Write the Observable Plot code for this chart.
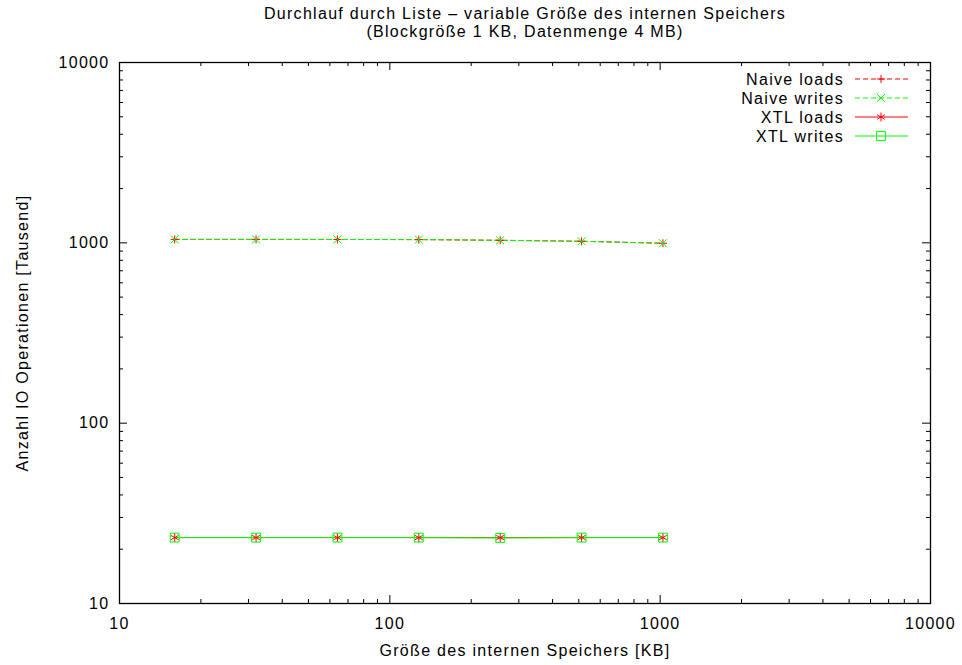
<!DOCTYPE html>
<html><head><meta charset="utf-8">
<script src="https://cdn.jsdelivr.net/npm/d3@7"></script>
<script src="https://cdn.jsdelivr.net/npm/@observablehq/plot@0.6"></script>
<style>
body{margin:0;background:#fff}
svg{font-family:"Liberation Sans",Arial,Helvetica,sans-serif}
svg text{letter-spacing:1.3px}
</style>
</head><body><div id="chart"></div>
<script>
// ---- data ----
const memKB = [16, 32, 64, 128, 256, 512, 1024];
const naiveLoads  = [1045, 1045, 1044, 1042, 1033, 1020, 995];
const naiveWrites = [1045, 1045, 1044, 1042, 1033, 1020, 995];
const xtlLoads  = [23.2, 23.2, 23.2, 23.2, 23.2, 23.2, 23.2];
const xtlWrites = [23.2, 23.2, 23.2, 23.2, 23.1, 23.2, 23.2];
const xTicks = [10, 100, 1000, 10000];
const yTicks = [10, 100, 1000, 10000];
const minorMultipliers = [2, 3, 4, 5, 6, 7, 8, 9];
const seriesNames = ["Naive loads", "Naive writes", "XTL loads", "XTL writes"];
const titleLines = ["Durchlauf durch Liste \u2013 variable Gr\u00f6\u00dfe des internen Speichers", "(Blockgr\u00f6\u00dfe 1 KB, Datenmenge 4 MB)"];
const xLabel = "Gr\u00f6\u00dfe des internen Speichers [KB]";
const yLabel = "Anzahl IO Operationen [Tausend]";

// ---- layout ----
const W = 962, H = 665;
const mL = 119, mR = 32, mT = 62, mB = 62;
const fW = W - mL - mR, fH = H - mT - mB;
const FS = 16;
const RED = "#ff0000", GREEN = "#00ff00";

const minorX = xTicks.slice(0, -1).flatMap(d => minorMultipliers.map(m => d * m));
const minorY = yTicks.slice(0, -1).flatMap(d => minorMultipliers.map(m => d * m));

const rows = (ys) => memKB.map((x, i) => ({x, y: ys[i]}));
const series = [
  {name: seriesNames[0], data: rows(naiveLoads),  stroke: RED,   dash: "5,3", symbol: "plus",     r: 2.7},
  {name: seriesNames[1], data: rows(naiveWrites), stroke: GREEN, dash: "5,3", symbol: "times",    r: 3.7},
  {name: seriesNames[2], data: rows(xtlLoads),    stroke: RED,   dash: null,  symbol: "asterisk", r: 4.2},
  {name: seriesNames[3], data: rows(xtlWrites),   stroke: GREEN, dash: null,  symbol: "square",   r: 5.0}
];

const tickStyle = {stroke: "black", strokeWidth: 1};
const marks = [
  // inward ticks, all four sides
  Plot.tickX(xTicks, {x: d => d, insetTop: fH - 8, ...tickStyle}),
  Plot.tickX(xTicks, {x: d => d, insetBottom: fH - 8, ...tickStyle}),
  Plot.tickX(minorX, {x: d => d, insetTop: fH - 4, ...tickStyle}),
  Plot.tickX(minorX, {x: d => d, insetBottom: fH - 4, ...tickStyle}),
  Plot.tickY(yTicks, {y: d => d, insetRight: fW - 8, ...tickStyle}),
  Plot.tickY(yTicks, {y: d => d, insetLeft: fW - 8, ...tickStyle}),
  Plot.tickY(minorY, {y: d => d, insetRight: fW - 4, ...tickStyle}),
  Plot.tickY(minorY, {y: d => d, insetLeft: fW - 4, ...tickStyle}),
  Plot.axisX(xTicks, {anchor: "bottom", tickSize: 0, tickPadding: 14, tickFormat: d => String(d), fontSize: FS, fill: "black", label: null}),
  Plot.axisY(yTicks, {anchor: "left", tickSize: 0, tickPadding: 10, tickFormat: d => String(d), fontSize: FS, fill: "black", label: null}),
];
for (const s of series) {
  marks.push(Plot.line(s.data, {x: "x", y: "y", stroke: s.stroke, strokeWidth: 1, strokeDasharray: s.dash || undefined}));
}
for (const s of series) {
  marks.push(Plot.dot(s.data, {x: "x", y: "y", symbol: () => s.symbol, r: s.r, stroke: s.stroke, strokeWidth: 1, fill: "none"}));
}
marks.push(
  Plot.frame({stroke: "black", strokeWidth: 1.3}),
  Plot.text([titleLines[0]], {text: d => d, frameAnchor: "top", lineAnchor: "middle", dy: -49, fontSize: FS, fill: "black"}),
  Plot.text([titleLines[1]], {text: d => d, frameAnchor: "top", lineAnchor: "middle", dy: -31, fontSize: FS, fill: "black"}),
  Plot.text([xLabel], {text: d => d, frameAnchor: "bottom", lineAnchor: "middle", dy: 47, fontSize: FS, fill: "black"}),
  Plot.text([yLabel], {text: d => d, frameAnchor: "left", textAnchor: "middle", lineAnchor: "middle", dx: -97, rotate: -90, fontSize: FS, fill: "black"})
);

const chart = Plot.plot({
  width: W, height: H,
  marginLeft: mL, marginRight: mR, marginTop: mT, marginBottom: mB,
  style: {fontFamily: '"Liberation Sans", Arial, sans-serif', fontSize: FS + "px", background: "white", overflow: "visible"},
  x: {type: "log", domain: [10, 10000], axis: null},
  y: {type: "log", domain: [10, 10000], axis: null},
  marks
});
document.getElementById("chart").appendChild(chart);

// ---- legend (top-right, inside frame) ----
const svg = d3.select(chart);
const lg = svg.append("g").attr("class", "legend");
const symMap = {plus: d3.symbolPlus, times: d3.symbolTimes, asterisk: d3.symbolAsterisk, square: d3.symbolSquare};
series.forEach((s, i) => {
  const y = 79 + i * 19;
  lg.append("text").attr("x", 844).attr("y", y).attr("dy", "0.35em")
    .attr("text-anchor", "end").attr("font-size", FS).attr("fill", "black").text(s.name);
  lg.append("line").attr("x1", 855).attr("x2", 908).attr("y1", y).attr("y2", y)
    .attr("stroke", s.stroke).attr("stroke-width", 1)
    .attr("stroke-dasharray", s.dash);
  lg.append("path").attr("transform", `translate(881,${y})`)
    .attr("d", d3.symbol(symMap[s.symbol], s.r * s.r * Math.PI)())
    .attr("stroke", s.stroke).attr("fill", "none").attr("stroke-width", 1);
});
</script>
</body></html>
